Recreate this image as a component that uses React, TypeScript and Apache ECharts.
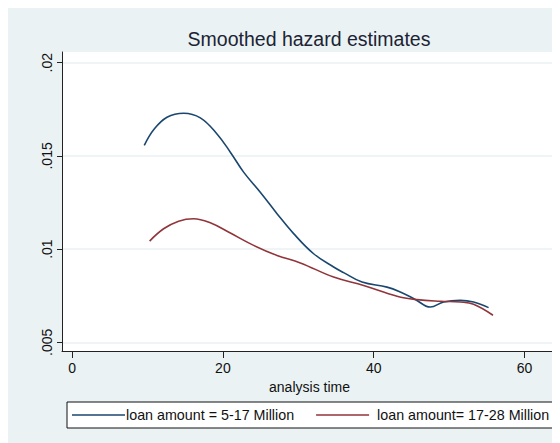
import React, { useEffect, useRef } from "react";
import * as echarts from "echarts";

const titleText = "Smoothed hazard estimates";
const xName = "analysis time";
const seriesNames = ["loan amount = 5-17 Million", "loan amount= 17-28 Million"];
const xTicks = [0, 20, 40, 60];
const yTicks = [0.005, 0.01, 0.015, 0.02];

const blueX = [9.58, 10.82, 12.59, 14.8, 17.01, 19.22, 20.99, 22.75, 24.96, 27.18, 29.38, 32.03, 34.68, 36.01, 38.45, 41.76, 43.52, 45.51, 47.5, 49.26, 51.47, 53.24, 55.23];
const blueY = [0.01556, 0.0164, 0.01707, 0.01729, 0.01704, 0.01618, 0.0152, 0.01413, 0.01305, 0.0119, 0.01083, 0.00975, 0.00904, 0.00874, 0.00823, 0.00796, 0.0077, 0.0073, 0.00689, 0.00716, 0.00725, 0.00716, 0.00686];

const redX = [10.29, 12.14, 14.13, 16.12, 18.33, 20.99, 24.08, 27.18, 30.27, 34.68, 38.66, 43.09, 45.74, 48.83, 51.47, 53.24, 55.81];
const redY = [0.01043, 0.01109, 0.0115, 0.01163, 0.01141, 0.01086, 0.0102, 0.00966, 0.00926, 0.0085, 0.00805, 0.00747, 0.00729, 0.0072, 0.00716, 0.00704, 0.00645];

const FONT = "'Liberation Sans', Arial, sans-serif";

export default function App() {
  const ref = useRef<HTMLDivElement>(null);
  useEffect(() => {
    if (!ref.current) return;
    const chart = echarts.init(ref.current, null, { renderer: "svg" });
    const zip = (xs: number[], ys: number[]) => xs.map((x, i) => [x, ys[i]]);
    chart.setOption({
      animation: false,
      backgroundColor: "#eaf2f3",
      textStyle: { fontFamily: FONT },
      graphic: [
        {
          type: "text",
          x: 301,
          y: 31,
          style: {
            text: titleText,
            fontFamily: FONT,
            fontSize: 19.5,
            fill: "#1c2333",
            align: "center",
            verticalAlign: "middle",
          },
        },
      ],
      grid: {
        left: 54,
        top: 44,
        right: 3,
        bottom: 92,
        show: true,
        backgroundColor: "#ffffff",
        borderWidth: 0,
        containLabel: false,
      },
      xAxis: {
        type: "value",
        min: -1.33,
        max: 64.3,
        name: xName,
        nameLocation: "middle",
        nameGap: 25,
        nameTextStyle: { fontFamily: FONT, fontSize: 14, color: "#111" },
        axisLine: { show: true, onZero: false, lineStyle: { color: "#222", width: 1 } },
        axisTick: { show: true, length: 7, customValues: xTicks, lineStyle: { color: "#222" } },
        axisLabel: {
          customValues: xTicks,
          margin: 10,
          fontFamily: FONT,
          fontSize: 14,
          color: "#111",
        },
        splitLine: { show: false },
      },
      yAxis: {
        type: "value",
        min: 0.004533,
        max: 0.020574,
        axisLine: { show: true, onZero: false, lineStyle: { color: "#222", width: 1 } },
        axisTick: { show: true, length: 5, customValues: yTicks, lineStyle: { color: "#222" } },
        axisLabel: {
          customValues: yTicks,
          rotate: 90,
          margin: 8,
          fontFamily: FONT,
          fontSize: 14,
          color: "#111",
          formatter: (v: number) => String(v).replace(/^0/, ""),
        },
        splitLine: { show: true, lineStyle: { color: "#eaf2f3", width: 1.5 } },
      },
      legend: {
        left: 59,
        top: 394,
        orient: "horizontal",
        backgroundColor: "#ffffff",
        borderColor: "#111",
        borderWidth: 1,
        borderRadius: 0,
        padding: [6, 4, 6, 5],
        icon: "rect",
        itemWidth: 53,
        itemHeight: 1.6,
        itemGap: 22,
        textStyle: { fontFamily: FONT, fontSize: 14.3, color: "#111" },
        data: [
          { name: seriesNames[0], textStyle: { padding: [0, 0, 0, -4] } },
          { name: seriesNames[1], textStyle: { padding: [0, 0, 0, 3] } },
        ],
      },
      series: [
        {
          name: seriesNames[0],
          type: "line",
          data: zip(blueX, blueY),
          smooth: 0.4,
          symbol: "none",
          showSymbol: false,
          lineStyle: { color: "#1a476f", width: 1.6 },
          itemStyle: { color: "#1a476f" },
        },
        {
          name: seriesNames[1],
          type: "line",
          data: zip(redX, redY),
          smooth: 0.4,
          symbol: "none",
          showSymbol: false,
          lineStyle: { color: "#90353b", width: 1.6 },
          itemStyle: { color: "#90353b" },
        },
      ],
    });
    return () => chart.dispose();
  }, []);
  return <div ref={ref} style={{ width: 552, height: 435 }} />;
}
